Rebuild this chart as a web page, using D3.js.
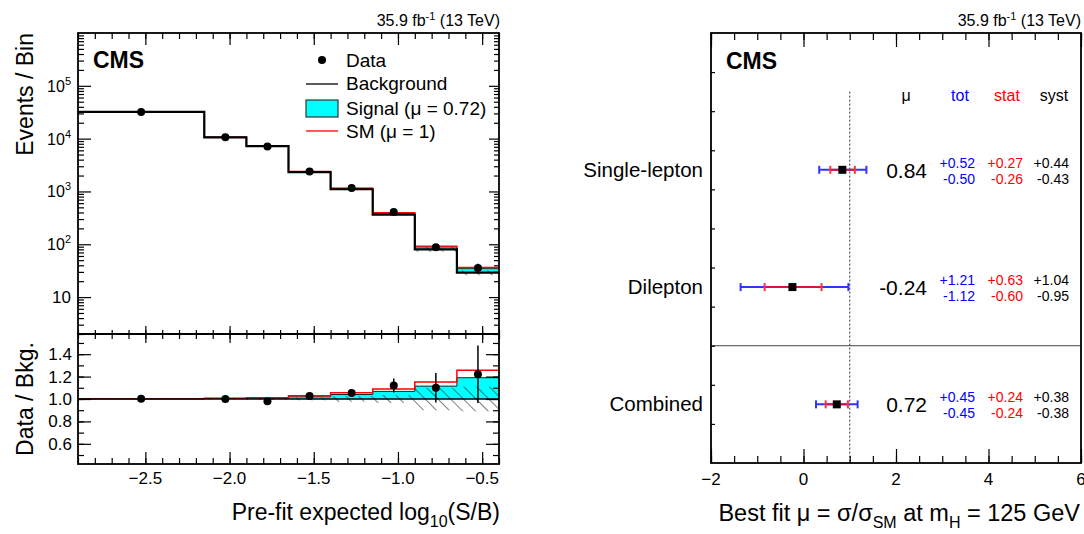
<!DOCTYPE html>
<html>
<head>
<meta charset="utf-8">
<script src="https://cdn.jsdelivr.net/npm/d3@7"></script>
<style>
body { margin: 0; background: #fff; }
svg { font-family: "Liberation Sans", Arial, sans-serif; }
</style>
</head>
<body>
<div id="container"></div>
<script>
// ---- left: S/B distribution ----
const binEdges = [-2.9, -2.15, -1.9, -1.65, -1.4, -1.15, -0.9, -0.65, -0.4];
const bkgCounts = [32000, 10600, 7200, 2330, 1100, 365, 80, 29];
const dataCounts = [32100, 10600, 7060, 2390, 1160, 409, 88, 35.4];
const dataRelErr = [0.006, 0.01, 0.012, 0.02, 0.03, 0.055, 0.12, 0.21];
const sigFrac = [0.002, 0.005, 0.009, 0.02, 0.04, 0.068, 0.115, 0.19];   // signal (mu=0.72) / bkg
const smFrac = [0.003, 0.007, 0.012, 0.03, 0.055, 0.09, 0.152, 0.257];   // SM signal (mu=1) / bkg
const bkgUnc = [0.004, 0.006, 0.008, 0.012, 0.025, 0.035, 0.1, 0.11];
const xTicksLeft = [-2.5, -2.0, -1.5, -1.0, -0.5];
const logTicks = [10, 1e2, 1e3, 1e4, 1e5];
const ratioTicks = [0.6, 0.8, 1.0, 1.2, 1.4];

// ---- right: best fit mu ----
const channels = ["Single-lepton", "Dilepton", "Combined"];
const muFit = [0.84, -0.24, 0.72];
const totUp = [0.52, 1.21, 0.45];
const totDn = [0.50, 1.12, 0.45];
const statUp = [0.27, 0.63, 0.24];
const statDn = [0.26, 0.60, 0.24];
const systUp = [0.44, 1.04, 0.38];
const systDn = [0.43, 0.95, 0.38];
const xTicksRight = [-2, 0, 2, 4, 6];

const W = 1084, H = 534;
const svg = d3.select("#container").append("svg").attr("width", W).attr("height", H);
svg.append("rect").attr("width", W).attr("height", H).attr("fill", "#fff");

const defs = svg.append("defs");
defs.append("pattern").attr("id", "hatch").attr("patternUnits", "userSpaceOnUse")
    .attr("width", 9).attr("height", 9).attr("patternTransform", "rotate(-45)")
    .append("line").attr("x1", 0).attr("y1", 0).attr("x2", 0).attr("y2", 9)
    .attr("stroke", "#000").attr("stroke-width", 1);

function ticks(g, axis, vals, size) {
    g.call(axis.tickValues(vals).tickSize(size).tickFormat(""))
        .call(s => s.select(".domain").remove())
        .selectAll("line").attr("stroke", "#000").attr("stroke-width", 1.2);
}
function minorRange(a, b, step) {
    return d3.range(Math.round((b - a) / step) + 1).map(i => +(a + i * step).toFixed(4));
}
const fmt2 = v => v.toFixed(2);

// ================= LEFT =================
const L = { x0: 78, x1: 499, top: 33, mid: 334, bot: 464 };
const x = d3.scaleLinear().domain([-2.9, -0.4]).range([L.x0, L.x1]);
const y = d3.scaleLog().domain([2, 1e6]).range([L.mid, L.top]);
const yr = d3.scaleLinear().domain([0.42, 1.58]).range([L.bot, L.mid]);

defs.append("clipPath").attr("id", "clipTop").append("rect")
    .attr("x", L.x0).attr("y", L.top).attr("width", L.x1 - L.x0).attr("height", L.mid - L.top);
defs.append("clipPath").attr("id", "clipRat").append("rect")
    .attr("x", L.x0).attr("y", L.mid).attr("width", L.x1 - L.x0).attr("height", L.bot - L.mid);

const stepPts = arr => binEdges.map((e, i) => [e, arr[Math.min(i, arr.length - 1)]]);
const idx = d3.range(bkgCounts.length);

// upper panel
const upper = svg.append("g").attr("clip-path", "url(#clipTop)");
const sigTop = idx.map(i => bkgCounts[i] * (1 + sigFrac[i]));
const smTop = idx.map(i => bkgCounts[i] * (1 + smFrac[i]));
upper.append("path")
    .attr("d", d3.area().curve(d3.curveStepAfter).x(d => x(d[0])).y0(d => y(d[1])).y1(d => y(d[2]))(
        binEdges.map((e, i) => { const k = Math.min(i, 7); return [e, bkgCounts[k], sigTop[k]]; })))
    .attr("fill", "#00ffff");
upper.append("path").attr("d", d3.line().curve(d3.curveStepAfter).x(d => x(d[0])).y(d => y(d[1]))(stepPts(sigTop)))
    .attr("fill", "none").attr("stroke", "#222").attr("stroke-width", 1);
upper.append("path").attr("d", d3.line().curve(d3.curveStepAfter).x(d => x(d[0])).y(d => y(d[1]))(stepPts(smTop)))
    .attr("fill", "none").attr("stroke", "#ff0000").attr("stroke-width", 1.3);
upper.selectAll("rect.hatch").data(idx).enter().append("rect")
    .attr("x", i => x(binEdges[i])).attr("width", i => x(binEdges[i + 1]) - x(binEdges[i]))
    .attr("y", i => y(bkgCounts[i] * (1 + bkgUnc[i])))
    .attr("height", i => y(bkgCounts[i] * (1 - bkgUnc[i])) - y(bkgCounts[i] * (1 + bkgUnc[i])))
    .attr("fill", "url(#hatch)");
upper.append("path").attr("d", d3.line().curve(d3.curveStepAfter).x(d => x(d[0])).y(d => y(d[1]))(stepPts(bkgCounts)))
    .attr("fill", "none").attr("stroke", "#000").attr("stroke-width", 2.2);
idx.forEach(i => {
    const cx = x((binEdges[i] + binEdges[i + 1]) / 2);
    const e = dataCounts[i] * dataRelErr[i];
    upper.append("line").attr("x1", cx).attr("x2", cx)
        .attr("y1", y(dataCounts[i] + e)).attr("y2", y(dataCounts[i] - e)).attr("stroke", "#000").attr("stroke-width", 1.5);
    upper.append("circle").attr("cx", cx).attr("cy", y(dataCounts[i])).attr("r", 4).attr("fill", "#000");
});

// ratio panel
const rat = svg.append("g").attr("clip-path", "url(#clipRat)");
const sigR = sigFrac.map(v => 1 + v), smR = smFrac.map(v => 1 + v);
rat.append("path")
    .attr("d", d3.area().curve(d3.curveStepAfter).x(d => x(d[0])).y0(yr(1)).y1(d => yr(d[1]))(stepPts(sigR)))
    .attr("fill", "#00ffff");
rat.append("path").attr("d", d3.line().curve(d3.curveStepAfter).x(d => x(d[0])).y(d => yr(d[1]))(stepPts(sigR)))
    .attr("fill", "none").attr("stroke", "#222").attr("stroke-width", 1);
rat.append("path").attr("d", d3.line().curve(d3.curveStepAfter).x(d => x(d[0])).y(d => yr(d[1]))(stepPts(smR)))
    .attr("fill", "none").attr("stroke", "#ff0000").attr("stroke-width", 1.5);
rat.selectAll("rect.hatch").data(idx).enter().append("rect")
    .attr("x", i => x(binEdges[i])).attr("width", i => x(binEdges[i + 1]) - x(binEdges[i]))
    .attr("y", i => yr(1 + bkgUnc[i])).attr("height", i => yr(1 - bkgUnc[i]) - yr(1 + bkgUnc[i]))
    .attr("fill", "url(#hatch)");
rat.append("line").attr("x1", L.x0).attr("x2", L.x1).attr("y1", yr(1)).attr("y2", yr(1))
    .attr("stroke", "#000").attr("stroke-width", 1.3);
idx.forEach(i => {
    const cx = x((binEdges[i] + binEdges[i + 1]) / 2);
    const r = dataCounts[i] / bkgCounts[i];
    const e = r * dataRelErr[i];
    rat.append("line").attr("x1", cx).attr("x2", cx).attr("y1", yr(r + e)).attr("y2", yr(r - e))
        .attr("stroke", "#000").attr("stroke-width", 1.5);
    rat.append("circle").attr("cx", cx).attr("cy", yr(r)).attr("r", 4).attr("fill", "#000");
});

// frames
svg.append("rect").attr("x", L.x0).attr("y", L.top).attr("width", L.x1 - L.x0).attr("height", L.mid - L.top)
    .attr("fill", "none").attr("stroke", "#000").attr("stroke-width", 1.8);
svg.append("rect").attr("x", L.x0).attr("y", L.mid).attr("width", L.x1 - L.x0).attr("height", L.bot - L.mid)
    .attr("fill", "none").attr("stroke", "#000").attr("stroke-width", 1.8);

// left ticks
const xMinorL = minorRange(-2.9, -0.4, 0.1);
ticks(svg.append("g").attr("transform", `translate(0,${L.top})`), d3.axisBottom(x), xMinorL, 6);
ticks(svg.append("g").attr("transform", `translate(0,${L.top})`), d3.axisBottom(x), xTicksLeft, 12);
ticks(svg.append("g").attr("transform", `translate(0,${L.mid})`), d3.axisTop(x), xMinorL, 4);
ticks(svg.append("g").attr("transform", `translate(0,${L.mid})`), d3.axisTop(x), xTicksLeft, 8);
ticks(svg.append("g").attr("transform", `translate(0,${L.mid})`), d3.axisBottom(x), xMinorL, 5);
ticks(svg.append("g").attr("transform", `translate(0,${L.mid})`), d3.axisBottom(x), xTicksLeft, 9);
ticks(svg.append("g").attr("transform", `translate(0,${L.bot})`), d3.axisTop(x), xMinorL, 6);
ticks(svg.append("g").attr("transform", `translate(0,${L.bot})`), d3.axisTop(x), xTicksLeft, 12);

const logMinor = [];
[1, 10, 100, 1000, 1e4, 1e5].forEach(p => d3.range(2, 10).forEach(m => { const v = m * p; if (v >= 2 && v <= 1e6) logMinor.push(v); }));
ticks(svg.append("g").attr("transform", `translate(${L.x0},0)`), d3.axisRight(y), logMinor, 6);
ticks(svg.append("g").attr("transform", `translate(${L.x0},0)`), d3.axisRight(y), logTicks, 13);
ticks(svg.append("g").attr("transform", `translate(${L.x1},0)`), d3.axisLeft(y), logMinor, 5);
ticks(svg.append("g").attr("transform", `translate(${L.x1},0)`), d3.axisLeft(y), logTicks, 10);

const rMinor = minorRange(0.5, 1.5, 0.1);
ticks(svg.append("g").attr("transform", `translate(${L.x0},0)`), d3.axisRight(yr), rMinor, 6);
ticks(svg.append("g").attr("transform", `translate(${L.x0},0)`), d3.axisRight(yr), ratioTicks, 13);
ticks(svg.append("g").attr("transform", `translate(${L.x1},0)`), d3.axisLeft(yr), rMinor, 6);
ticks(svg.append("g").attr("transform", `translate(${L.x1},0)`), d3.axisLeft(yr), ratioTicks, 13);

// left tick labels
svg.append("g").selectAll("text").data(xTicksLeft).enter().append("text")
    .attr("x", d => x(d)).attr("y", 484).attr("text-anchor", "middle").attr("font-size", 17)
    .text(d => d.toFixed(1).replace("-", "\u2212"));
logTicks.forEach(v => {
    const t = svg.append("text").attr("x", 71).attr("y", y(v) + 6).attr("text-anchor", "end").attr("font-size", 17);
    const p = Math.round(Math.log10(v));
    if (p === 1) { t.text("10"); }
    else {
        t.append("tspan").attr("font-size", 16).text("10");
        t.append("tspan").attr("font-size", 11).attr("dy", -7).text(p);
    }
});
svg.append("g").selectAll("text").data(ratioTicks).enter().append("text")
    .attr("x", 72).attr("y", d => yr(d) + 6).attr("text-anchor", "end").attr("font-size", 17)
    .text(d => d.toFixed(1));

// left titles
svg.append("text").attr("transform", `translate(33,${L.top}) rotate(-90)`).attr("text-anchor", "end")
    .attr("font-size", 23).text("Events / Bin");
svg.append("text").attr("transform", `translate(33,399) rotate(-90)`).attr("text-anchor", "middle")
    .attr("font-size", 23).text("Data / Bkg.");
const xtL = svg.append("text").attr("x", 500).attr("y", 520).attr("text-anchor", "end").attr("font-size", 23);
xtL.append("tspan").text("Pre-fit expected log");
xtL.append("tspan").attr("font-size", 16).attr("dy", 7).text("10");
xtL.append("tspan").attr("dy", -7).text("(S/B)");

function lumi(xe) {
    const t = svg.append("text").attr("x", xe).attr("y", 26).attr("text-anchor", "end").attr("font-size", 16);
    t.append("tspan").text("35.9 fb");
    t.append("tspan").attr("font-size", 11).attr("dy", -6).text("-1");
    t.append("tspan").attr("dy", 6).text(" (13 TeV)");
}
lumi(500);
svg.append("text").attr("x", 93).attr("y", 68).attr("font-size", 23).attr("font-weight", "bold").text("CMS");

// legend
const lg = svg.append("g").attr("font-size", 19);
lg.append("circle").attr("cx", 322).attr("cy", 60).attr("r", 4).attr("fill", "#000");
lg.append("text").attr("x", 346).attr("y", 67).text("Data");
lg.append("line").attr("x1", 306).attr("x2", 338).attr("y1", 84).attr("y2", 84).attr("stroke", "#000").attr("stroke-width", 1.3);
lg.append("text").attr("x", 346).attr("y", 90).text("Background");
lg.append("rect").attr("x", 306).attr("y", 100).attr("width", 32).attr("height", 17)
    .attr("fill", "#00ffff").attr("stroke", "#333").attr("stroke-width", 1.2);
lg.append("text").attr("x", 346).attr("y", 115).text("Signal (\u03bc = 0.72)");
lg.append("line").attr("x1", 306).attr("x2", 338).attr("y1", 131).attr("y2", 131).attr("stroke", "#ff0000").attr("stroke-width", 1.3);
lg.append("text").attr("x", 346).attr("y", 138).text("SM (\u03bc = 1)");

// ================= RIGHT =================
const R = { x0: 711, x1: 1081, top: 33, bot: 463 };
const xm = d3.scaleLinear().domain([-2, 6]).range([R.x0, R.x1]);
const ym = d3.scaleLinear().domain([0, 11]).range([R.bot, R.top]);
const nCh = channels.length;
const rowY = i => ym(1.5 + 3 * (nCh - 1 - i));

svg.append("line").attr("x1", R.x0).attr("x2", R.x1).attr("y1", ym(3)).attr("y2", ym(3))
    .attr("stroke", "#444").attr("stroke-width", 1);
svg.append("line").attr("x1", xm(1)).attr("x2", xm(1)).attr("y1", ym(9.5)).attr("y2", ym(0))
    .attr("stroke", "#333").attr("stroke-width", 1).attr("stroke-dasharray", "2,2");

channels.forEach((c, i) => {
    const cy = rowY(i);
    const g = svg.append("g");
    g.append("line").attr("x1", xm(muFit[i] - totDn[i])).attr("x2", xm(muFit[i] + totUp[i]))
        .attr("y1", cy).attr("y2", cy).attr("stroke", "#3333ff").attr("stroke-width", 2);
    [muFit[i] - totDn[i], muFit[i] + totUp[i]].forEach(v =>
        g.append("line").attr("x1", xm(v)).attr("x2", xm(v)).attr("y1", cy - 4).attr("y2", cy + 4)
            .attr("stroke", "#3333ff").attr("stroke-width", 2));
    g.append("line").attr("x1", xm(muFit[i] - statDn[i])).attr("x2", xm(muFit[i] + statUp[i]))
        .attr("y1", cy).attr("y2", cy).attr("stroke", "#dd1144").attr("stroke-width", 2);
    [muFit[i] - statDn[i], muFit[i] + statUp[i]].forEach(v =>
        g.append("line").attr("x1", xm(v)).attr("x2", xm(v)).attr("y1", cy - 4).attr("y2", cy + 4)
            .attr("stroke", "#ff3333").attr("stroke-width", 2));
    g.append("rect").attr("x", xm(muFit[i]) - 4).attr("y", cy - 4).attr("width", 8).attr("height", 8).attr("fill", "#000");

    svg.append("text").attr("x", 703).attr("y", cy + 7).attr("text-anchor", "end").attr("font-size", 20.5).text(c);
    svg.append("text").attr("x", 927).attr("y", cy + 8).attr("text-anchor", "end").attr("font-size", 21)
        .text(fmt2(muFit[i]));
    const cols = [[totUp, totDn, 975, "#0000ff"], [statUp, statDn, 1023, "#ff0000"], [systUp, systDn, 1069, "#000"]];
    cols.forEach(([up, dn, xe, col]) => {
        svg.append("text").attr("x", xe).attr("y", cy - 2).attr("text-anchor", "end").attr("font-size", 14)
            .attr("fill", col).text("+" + fmt2(up[i]));
        svg.append("text").attr("x", xe).attr("y", cy + 14).attr("text-anchor", "end").attr("font-size", 14)
            .attr("fill", col).text("-" + fmt2(dn[i]));
    });
});

// headers
const hy = 101;
[["\u03bc", 906, "#000"], ["tot", 960, "#0000ff"], ["stat", 1007, "#ff0000"], ["syst", 1054, "#000"]].forEach(([t, xc, col]) =>
    svg.append("text").attr("x", xc).attr("y", hy).attr("text-anchor", "middle").attr("font-size", 16).attr("fill", col).text(t));

svg.append("rect").attr("x", R.x0).attr("y", R.top).attr("width", R.x1 - R.x0).attr("height", R.bot - R.top)
    .attr("fill", "none").attr("stroke", "#000").attr("stroke-width", 1.8);
const xMinorR = minorRange(-2, 6, 0.5);
ticks(svg.append("g").attr("transform", `translate(0,${R.bot})`), d3.axisTop(xm), xMinorR, 7);
ticks(svg.append("g").attr("transform", `translate(0,${R.bot})`), d3.axisTop(xm), xTicksRight, 14);
ticks(svg.append("g").attr("transform", `translate(0,${R.top})`), d3.axisBottom(xm), xMinorR, 7);
ticks(svg.append("g").attr("transform", `translate(0,${R.top})`), d3.axisBottom(xm), xTicksRight, 14);
ticks(svg.append("g").attr("transform", `translate(${R.x0},0)`), d3.axisRight(ym), d3.range(1, 11), 4);

svg.append("g").selectAll("text").data(xTicksRight).enter().append("text")
    .attr("x", d => xm(d)).attr("y", 485).attr("text-anchor", "middle").attr("font-size", 17)
    .text(d => String(d).replace("-", "\u2212"));

const xtR = svg.append("text").attr("x", 1080).attr("y", 521).attr("text-anchor", "end").attr("font-size", 23.5);
xtR.append("tspan").text("Best fit \u03bc = \u03c3/\u03c3");
xtR.append("tspan").attr("font-size", 16).attr("dy", 7).text("SM");
xtR.append("tspan").attr("dy", -7).text(" at m");
xtR.append("tspan").attr("font-size", 16).attr("dy", 7).text("H");
xtR.append("tspan").attr("dy", -7).text(" = 125 GeV");

lumi(1081);
svg.append("text").attr("x", 726).attr("y", 69).attr("font-size", 23).attr("font-weight", "bold").text("CMS");
</script>
</body>
</html>
